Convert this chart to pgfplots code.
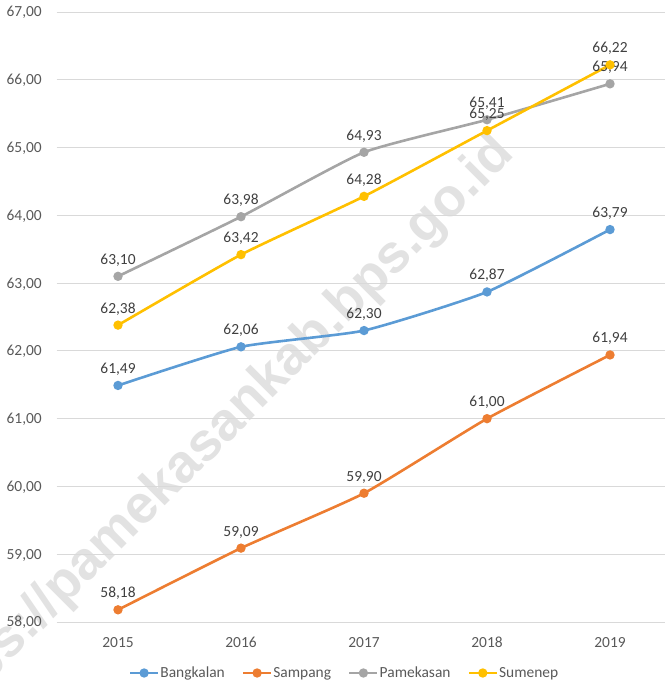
\documentclass[border=0pt]{standalone}
\usepackage{pgfplots}
\pgfplotsset{compat=1.18}
\usepackage{fontspec}
\setmainfont{Carlito}
\newfontfamily\wmfont{Liberation Sans}
\definecolor{cB}{HTML}{5B9BD5}
\definecolor{cO}{HTML}{ED7D31}
\definecolor{cG}{HTML}{A5A5A5}
\definecolor{cY}{HTML}{FFC000}
\definecolor{gridc}{HTML}{D9D9D9}
\definecolor{tickc}{HTML}{595959}
\definecolor{labc}{HTML}{404040}
\definecolor{wmc}{HTML}{E2E2E2}
\begin{document}
\begin{tikzpicture}
\begin{axis}[
  set layers,
  clip=false,
  scale only axis,
  width=608.5bp, height=610bp,
  xmin=-0.5, xmax=4.447, ymin=58, ymax=67,
  xtick={0,1,2,3,4}, xticklabels={2015,2016,2017,2018,2019},
  ytick={58,59,60,61,62,63,64,65,66,67},
  ymajorgrids, grid style={draw=gridc, line width=0.8bp},
  axis line style={draw=none},
  major tick length=0pt,
  /pgf/number format/.cd, fixed, fixed zerofill, precision=2, use comma, assume math mode=true,
  /pgfplots/.cd,
  tick label style={font=\fontsize{15.5}{18}\selectfont, text=tickc, inner sep=0pt},
  yticklabel style={anchor=base east, xshift=-14.5bp, yshift=-5bp},
  xticklabel style={anchor=base, yshift=-26bp},
  every axis plot/.append style={line width=2.6bp, mark=*, mark size=3.3bp, mark options={solid}, smooth, tension=0.3},
  nodes near coords,
  every node near coord/.append style={font=\fontsize{15.5}{18}\selectfont, text=labc, anchor=base, yshift=12bp, inner sep=0pt},
  legend columns=-1,
  legend style={at={(axis description cs:0.4725,-0.0836)}, anchor=center, draw=none, fill=none,
     font=\fontsize{15.5}{18}\selectfont, text=tickc,
     column sep=0pt, nodes={inner sep=1bp},
     /tikz/every even column/.append style={column sep=16bp}},
  legend image code/.code={\draw[#1, sharp plot, mark repeat=2, mark phase=2] plot coordinates {(0bp,0bp) (14bp,0bp) (28bp,0bp)};},
]
\begin{pgfonlayer}{axis background}
\node[rotate=45, anchor=base, font=\wmfont\bfseries\fontsize{54}{64}\selectfont, text=wmc, inner sep=0pt] at (axis cs:0.88,60.61) {https://pamekasankab.bps.go.id};
\end{pgfonlayer}
\addplot[color=cB] coordinates {(0,61.49) (1,62.06) (2,62.30) (3,62.87) (4,63.79)};
\addlegendentry{Bangkalan}
\addplot[color=cO] coordinates {(0,58.18) (1,59.09) (2,59.90) (3,61.00) (4,61.94)};
\addlegendentry{Sampang}
\addplot[color=cG] coordinates {(0,63.10) (1,63.98) (2,64.93) (3,65.41) (4,65.94)};
\addlegendentry{Pamekasan}
\addplot[color=cY] coordinates {(0,62.38) (1,63.42) (2,64.28) (3,65.25) (4,66.22)};
\addlegendentry{Sumenep}
\coordinate (bl) at (rel axis cs:0,0);
\coordinate (tr) at (rel axis cs:1,1);
\end{axis}
\pgfresetboundingbox
\path ([shift={(-56.5bp,-63bp)}]bl) rectangle ([shift={(0bp,12bp)}]tr);
\end{tikzpicture}
\end{document}
